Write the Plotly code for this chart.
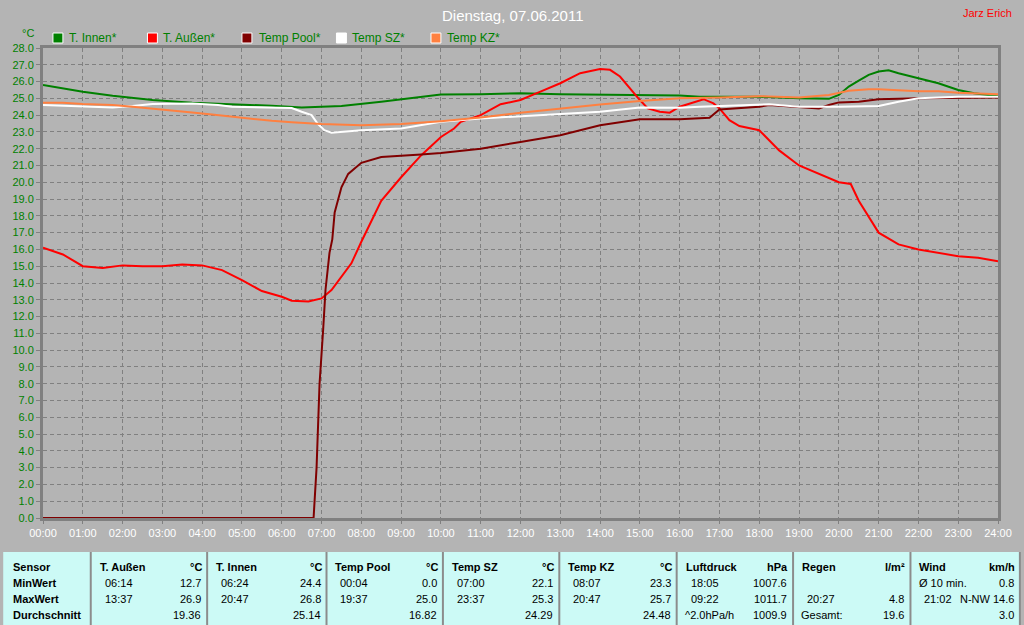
import plotly.graph_objects as go

# ---------------- data (hours of day -> °C) ----------------
innen_h = [0, 0.5, 1, 1.75, 2.75, 3.75, 4.75, 5.75, 6.5, 7, 7.5, 8.5, 9.5, 10, 11, 12, 13, 14.3,
           16, 16.5, 18, 19, 19.75, 20, 20.25, 20.5, 20.75, 21, 21.25, 21.5, 22, 22.5, 23, 23.4, 24]
innen_v = [25.8, 25.6, 25.4, 25.15, 24.9, 24.74, 24.66, 24.56, 24.46, 24.5, 24.55, 24.8, 25.1, 25.23,
           25.25, 25.3, 25.25, 25.2, 25.17, 25.1, 25.1, 25.0, 24.97, 25.2, 25.7, 26.05, 26.4, 26.6,
           26.67, 26.5, 26.2, 25.9, 25.5, 25.3, 25.13]

aussen_h = [0, 0.5, 1, 1.5, 2, 2.5, 3, 3.5, 4, 4.5, 5, 5.5, 6, 6.25, 6.67, 7, 7.25, 7.5, 7.75, 8,
            8.5, 9, 9.5, 10, 10.33, 10.5, 11, 11.5, 12, 12.5, 13, 13.5, 14, 14.25, 14.5, 15, 15.2,
            15.5, 15.75, 16, 16.6, 16.85, 17, 17.25, 17.5, 18, 18.5, 19, 19.5, 20, 20.3, 20.5, 21,
            21.5, 22, 22.5, 23, 23.5, 24]
aussen_v = [16.1, 15.7, 15.0, 14.9, 15.05, 15.0, 15.0, 15.1, 15.05, 14.77, 14.17, 13.52, 13.18, 12.94,
            12.9, 13.08, 13.58, 14.37, 15.17, 16.46, 18.9, 20.3, 21.6, 22.7, 23.2, 23.6, 24.0, 24.65,
            24.9, 25.4, 25.9, 26.5, 26.75, 26.7, 26.3, 24.9, 24.4, 24.2, 24.15, 24.5, 24.95, 24.7,
            24.4, 23.7, 23.35, 23.1, 21.9, 21.0, 20.5, 20.0, 19.9, 18.9, 17.0, 16.3, 16.0, 15.8,
            15.6, 15.5, 15.3]

pool_h = [0, 6.8, 6.875, 6.95, 7.04, 7.1, 7.2, 7.27, 7.33, 7.5, 7.67, 8, 8.5, 9, 9.5, 10, 11, 12,
          13, 14, 15, 16, 16.5, 16.75, 17, 18, 18.25, 19, 19.5, 19.75, 20, 20.5, 21, 22, 24]
pool_v = [0.0, 0.0, 3.0, 8.0, 11.2, 13.6, 15.8, 16.6, 18.2, 19.7, 20.5, 21.16, 21.5, 21.6, 21.66,
          21.75, 22.0, 22.4, 22.8, 23.4, 23.76, 23.76, 23.8, 23.85, 24.34, 24.5, 24.6, 24.5, 24.4,
          24.6, 24.76, 24.8, 24.95, 25.0, 25.05]

sz_h = [0, 1, 1.75, 2.25, 2.75, 3.75, 4.4, 4.75, 5.75, 6.25, 6.5, 6.75, 6.9, 7.07, 7.25, 8, 9, 10,
        11, 12, 13, 14, 15, 16, 16.5, 17.5, 18.25, 19, 20, 21, 21.5, 22, 23, 24]
sz_v = [24.6, 24.5, 24.45, 24.54, 24.66, 24.7, 24.6, 24.5, 24.42, 24.42, 24.2, 24.0, 23.5, 23.1,
        22.95, 23.1, 23.2, 23.6, 23.8, 23.94, 24.06, 24.2, 24.45, 24.44, 24.5, 24.6, 24.65, 24.5,
        24.5, 24.55, 24.8, 25.0, 25.1, 25.1]

kz_h = [0, 0.5, 1, 1.75, 2.25, 2.75, 3.25, 3.75, 4.25, 4.75, 5.25, 5.75, 6.25, 7, 8, 9, 10, 11, 12,
        13, 14, 15, 16, 17, 18, 19, 19.75, 20.25, 20.75, 21, 21.5, 22, 22.5, 23, 24]
kz_v = [24.74, 24.74, 24.66, 24.6, 24.5, 24.4, 24.3, 24.16, 24.04, 23.9, 23.76, 23.66, 23.57, 23.47,
        23.4, 23.47, 23.64, 23.86, 24.14, 24.4, 24.63, 24.84, 25.0, 25.05, 25.13, 25.05, 25.2, 25.45,
        25.55, 25.55, 25.5, 25.43, 25.43, 25.33, 25.25]

series_names = ["T. Innen*", "T. Außen*", "Temp Pool*", "Temp SZ*", "Temp KZ*"]
series_colors = ["#008000", "#FF0000", "#800000", "#FFFFFF", "#FF8040"]

x_ticks = list(range(0, 25))
x_labels = [f"{h:02d}:00" for h in x_ticks]
y_ticks = list(range(0, 29))

# table text
tbl_headers = ["Sensor", "T. Außen", "T. Innen", "Temp Pool", "Temp SZ", "Temp KZ", "Luftdruck", "Regen", "Wind"]
tbl_units = ["", "°C", "°C", "°C", "°C", "°C", "hPa", "l/m²", "km/h"]
tbl_rowlabels = ["MinWert", "MaxWert", "Durchschnitt"]
tbl_min_left = ["06:14", "06:24", "00:04", "07:00", "08:07", "18:05", "", "Ø 10 min."]
tbl_min_right = ["12.7", "24.4", "0.0", "22.1", "23.3", "1007.6", "", "0.8"]
tbl_max_left = ["13:37", "20:47", "19:37", "23:37", "20:47", "09:22", "20:27", "21:02"]
tbl_max_right = ["26.9", "26.8", "25.0", "25.3", "25.7", "1011.7", "4.8", "N-NW 14.6"]
tbl_avg_left = ["", "", "", "", "", "^2.0hPa/h", "Gesamt:", ""]
tbl_avg_right = ["19.36", "25.14", "16.82", "24.29", "24.48", "1009.9", "19.6", "3.0"]

# ---------------- layout helpers (pixel -> paper) ----------------
W, H = 1024, 625
L, R, T, B = 40, 1000, 48, 518


def px(x):
    return (x - L) / (R - L)


def py(y):
    return (B - y) / (B - T)


FONT = "Liberation Sans, Arial, sans-serif"
BG = "#B4B4B4"

fig = go.Figure()
for hx, vy, name, col in zip([innen_h, aussen_h, pool_h, sz_h, kz_h],
                             [innen_v, aussen_v, pool_v, sz_v, kz_v],
                             series_names, series_colors):
    fig.add_trace(go.Scatter(x=hx, y=vy, mode="lines", name=name,
                             line=dict(color=col, width=2), showlegend=False))

shapes = []
annotations = []

# manual legend
leg_sq = [50, 145, 240, 335, 430]
leg_tx = [64, 159, 255, 349, 444]
for sx, tx, name, col in zip(leg_sq, leg_tx, series_names, series_colors):
    shapes.append(dict(type="rect", xref="paper", yref="paper",
                       x0=px(sx), x1=px(sx + 10), y0=py(43), y1=py(33),
                       fillcolor=col, line=dict(color="#FFFFFF", width=1)))
    annotations.append(dict(xref="paper", yref="paper", x=px(tx), y=py(38),
                            xanchor="left", yanchor="middle", showarrow=False,
                            text=name, font=dict(family=FONT, size=12, color="#008000")))

# unit label, title, author
annotations.append(dict(xref="paper", yref="paper", x=px(25), y=py(33), xanchor="center",
                        yanchor="middle", showarrow=False, text="°C",
                        font=dict(family=FONT, size=11, color="#008000")))
annotations.append(dict(xref="paper", yref="paper", x=px(512), y=py(15), xanchor="center",
                        yanchor="middle", showarrow=False, text="Dienstag, 07.06.2011",
                        font=dict(family=FONT, size=15, color="#FFFFFF")))
annotations.append(dict(xref="paper", yref="paper", x=px(1016), y=py(13), xanchor="right",
                        yanchor="middle", showarrow=False, text="Jarz Erich",
                        font=dict(family=FONT, size=11, color="#FF0000")))

# table
bounds = [2, 88, 205, 325, 442, 559, 677, 794, 912, 1022]
shapes.append(dict(type="rect", xref="paper", yref="paper", x0=px(0), x1=px(1022),
                   y0=py(552), y1=py(625), fillcolor="#CCFAF6", line=dict(width=0), layer="below"))
for bx in bounds[1:]:
    shapes.append(dict(type="line", xref="paper", yref="paper", x0=px(bx), x1=px(bx),
                       y0=py(552), y1=py(625), line=dict(color="#8C8C8C", width=2)))

row_y = [567, 583, 599, 615]
tfont = dict(family=FONT, size=11, color="#000000")
bfont = dict(family=FONT, size=11, color="#000000", weight="bold")


def txt(x, y, s, anchor, font):
    if s:
        annotations.append(dict(xref="paper", yref="paper", x=px(x), y=py(y), xanchor=anchor,
                                yanchor="middle", showarrow=False, text=s, font=font))


txt(8, row_y[0], tbl_headers[0], "left", bfont)
for i, lab in enumerate(tbl_rowlabels):
    txt(8, row_y[i + 1], lab, "left", bfont)
for c in range(1, 9):
    lft, rgt = bounds[c], bounds[c + 1]
    txt(lft + 7, row_y[0], tbl_headers[c], "left", bfont)
    txt(rgt - 3, row_y[0], tbl_units[c], "right", bfont)
    k = c - 1
    min_off = 7 if tbl_min_left[k].startswith("Ø") else 12
    txt(lft + min_off, row_y[1], tbl_min_left[k], "left", tfont)
    txt(rgt - 4, row_y[1], tbl_min_right[k], "right", tfont)
    txt(lft + 12, row_y[2], tbl_max_left[k], "left", tfont)
    txt(rgt - 4, row_y[2], tbl_max_right[k], "right", tfont)
    txt(lft + 6, row_y[3], tbl_avg_left[k], "left", tfont)
    txt(rgt - 4, row_y[3], tbl_avg_right[k], "right", tfont)

fig.update_layout(
    width=W, height=H, autosize=False,
    margin=dict(l=L, r=W - R, t=T, b=H - B, pad=0),
    paper_bgcolor=BG, plot_bgcolor=BG,
    showlegend=False,
    shapes=shapes, annotations=annotations,
    xaxis=dict(range=[0, 24], tickmode="array", tickvals=x_ticks, ticktext=x_labels,
               showgrid=True, gridcolor="#808080", griddash="4px,3px", gridwidth=1,
               showline=True, linecolor="#808080", linewidth=3, mirror=True,
               ticks="outside", ticklen=3, tickcolor="#808080",
               tickfont=dict(family=FONT, size=11, color="#FFFFFF"), zeroline=False,
               fixedrange=True),
    yaxis=dict(range=[0, 28], tickmode="array", tickvals=y_ticks,
               ticktext=[f"{v:.1f}" for v in y_ticks],
               showgrid=True, gridcolor="#808080", griddash="4px,3px", gridwidth=1,
               showline=True, linecolor="#808080", linewidth=3, mirror=True,
               ticks="outside", ticklen=4, tickcolor="#808080",
               tickfont=dict(family=FONT, size=11, color="#008000"), zeroline=False,
               fixedrange=True),
)

fig.write_html("out.html", config={"displayModeBar": False},
               post_script="document.body.style.margin='0';document.body.style.overflow='hidden';")
